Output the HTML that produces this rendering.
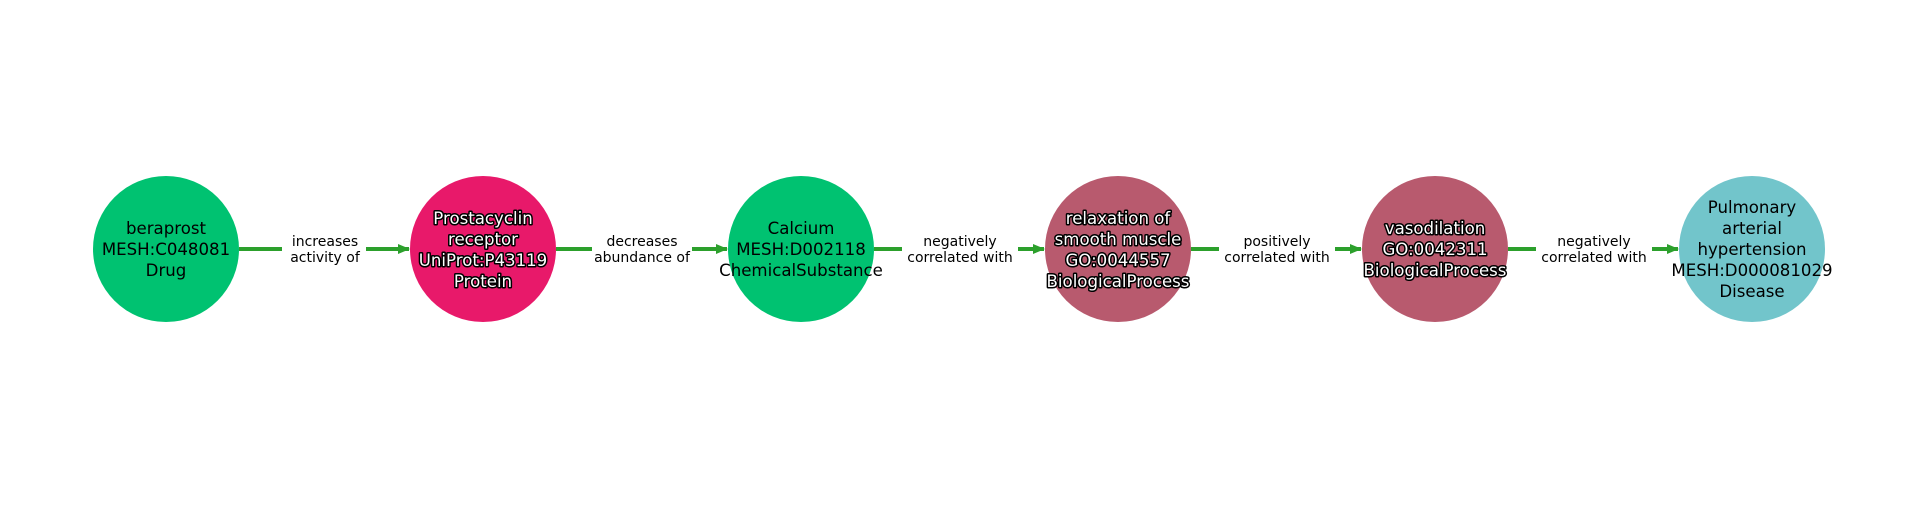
<!DOCTYPE html>
<html><head><style>html,body{margin:0;padding:0;background:#fff}</style></head><body>
<svg width="1920" height="500" xmlns="http://www.w3.org/2000/svg" font-family="DejaVu Sans, sans-serif">
<defs><marker id="a" markerWidth="12" markerHeight="10" refX="11" refY="5" orient="auto" markerUnits="userSpaceOnUse"><path d="M0,0 L12,5 L0,10 z" fill="#2ca02c"/></marker></defs>
<g stroke="#2ca02c" stroke-width="4" fill="none">
<line x1="239" y1="249" x2="409" y2="249" marker-end="url(#a)"/>
<line x1="556" y1="249" x2="727" y2="249" marker-end="url(#a)"/>
<line x1="874" y1="249" x2="1044" y2="249" marker-end="url(#a)"/>
<line x1="1191" y1="249" x2="1361" y2="249" marker-end="url(#a)"/>
<line x1="1508" y1="249" x2="1678" y2="249" marker-end="url(#a)"/>
</g>
<g fill="#fff">
<rect x="282" y="228" width="84" height="40"/>
<rect x="592" y="228" width="100" height="40"/>
<rect x="902" y="228" width="116" height="40"/>
<rect x="1219" y="228" width="116" height="40"/>
<rect x="1536" y="228" width="116" height="40"/>
</g>
<g font-size="14" text-anchor="middle" fill="#000">
<text x="325" y="246">increases</text><text x="325" y="262">activity of</text>
<text x="642" y="246">decreases</text><text x="642" y="262">abundance of</text>
<text x="960" y="246">negatively</text><text x="960" y="262">correlated with</text>
<text x="1277" y="246">positively</text><text x="1277" y="262">correlated with</text>
<text x="1594" y="246">negatively</text><text x="1594" y="262">correlated with</text>
</g>
<circle cx="166" cy="249" r="73" fill="#00c271"/>
<circle cx="483" cy="249" r="73" fill="#e8196a"/>
<circle cx="801" cy="249" r="73" fill="#00c271"/>
<circle cx="1118" cy="249" r="73" fill="#b85a6e"/>
<circle cx="1435" cy="249" r="73" fill="#b85a6e"/>
<circle cx="1752" cy="249" r="73" fill="#72c5cb"/>
<g font-size="16.6" text-anchor="middle" fill="#000">
<text x="166" y="234">beraprost</text><text x="166" y="255">MESH:C048081</text><text x="166" y="276">Drug</text>
<text x="801" y="234">Calcium</text><text x="801" y="255">MESH:D002118</text><text x="801" y="276">ChemicalSubstance</text>
<text x="1752" y="213">Pulmonary</text><text x="1752" y="234">arterial</text><text x="1752" y="255">hypertension</text><text x="1752" y="276">MESH:D000081029</text><text x="1752" y="297">Disease</text>
</g>
<g font-size="16.6" text-anchor="middle" fill="#fff" stroke="#000" stroke-width="3" paint-order="stroke" stroke-linejoin="round">
<text x="483" y="224">Prostacyclin</text><text x="483" y="245">receptor</text><text x="483" y="266">UniProt:P43119</text><text x="483" y="287">Protein</text>
<text x="1118" y="224">relaxation of</text><text x="1118" y="245">smooth muscle</text><text x="1118" y="266">GO:0044557</text><text x="1118" y="287">BiologicalProcess</text>
<text x="1435" y="234">vasodilation</text><text x="1435" y="255">GO:0042311</text><text x="1435" y="276">BiologicalProcess</text>
</g>
</svg>
</body></html>
